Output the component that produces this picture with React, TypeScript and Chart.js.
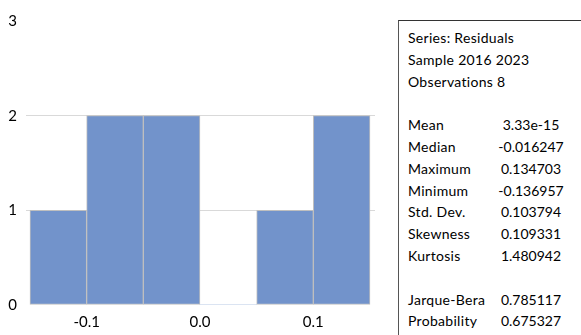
import React, { useEffect, useRef } from "react";
import { Chart, registerables } from "chart.js";

Chart.register(...registerables);

const binCenters = [-0.125, -0.075, -0.025, 0.025, 0.075, 0.125];
const counts = [1, 2, 2, 0, 1, 2];
const xTicks = [-0.1, 0.0, 0.1];
const yTicks = [0, 1, 2, 3];

const statsHeader = ["Series: Residuals", "Sample 2016 2023", "Observations 8"];
const statLabels = ["Mean", "Median", "Maximum", "Minimum", "Std. Dev.", "Skewness", "Kurtosis"];
const statValues = ["3.33e-15", "-0.016247", "0.134703", "-0.136957", "0.103794", "0.109331", "1.480942"];
const testLabels = ["Jarque-Bera", "Probability"];
const testValues = ["0.785117", "0.675327"];

const FONT = "Lato, 'Open Sans', sans-serif";

function Histogram() {
  const ref = useRef<HTMLCanvasElement | null>(null);
  useEffect(() => {
    if (!ref.current) return;
    const chart = new Chart(ref.current, {
      type: "bar",
      data: {
        datasets: [
          {
            data: binCenters.map((x, i) => ({ x, y: counts[i] })),
            backgroundColor: "#7293cb",
            borderColor: "#bfbfbf",
            borderWidth: (ctx: any) => (ctx.raw && ctx.raw.y > 0 ? 1 : 0),
            borderSkipped: false,
            barPercentage: 1,
            categoryPercentage: 1,
          },
        ],
      },
      options: {
        animation: false,
        responsive: false,
        maintainAspectRatio: false,
        layout: { padding: { top: 21, right: 8, left: 0, bottom: 0 } },
        plugins: { legend: { display: false }, tooltip: { enabled: false } },
        scales: {
          x: {
            type: "linear",
            offset: false,
            min: -0.1535,
            max: 0.1544,
            afterBuildTicks: (axis: any) => {
              axis.ticks = xTicks.map((v) => ({ value: v }));
            },
            afterFit: (axis: any) => {
              axis.height = 30;
            },
            grid: { display: false, drawTicks: false, offset: false },
            border: { display: false },
            ticks: {
              color: "#000",
              font: { family: FONT, size: 15 },
              padding: 8,
              maxRotation: 0,
              callback: (v: any) => Number(v).toFixed(1),
            },
          },
          y: {
            type: "linear",
            min: 0,
            max: 3,
            afterBuildTicks: (axis: any) => {
              axis.ticks = yTicks.map((v) => ({ value: v }));
            },
            afterFit: (axis: any) => {
              axis.width = 26;
            },
            grid: {
              drawTicks: false,
              color: (ctx: any) =>
                ctx.tick && (ctx.tick.value === 1 || ctx.tick.value === 2) ? "#d9d9d9" : "rgba(0,0,0,0)",
            },
            border: { display: false },
            ticks: {
              color: "#000",
              font: { family: FONT, size: 15 },
              padding: 9,
              callback: (v: any) => String(v),
            },
          },
        },
      },
    } as any);
    return () => chart.destroy();
  }, []);
  return (
    <canvas
      ref={ref}
      width={383}
      height={335}
      style={{ position: "absolute", left: 0, top: 0, width: 383, height: 335 }}
    />
  );
}

function StatsBox() {
  const lineH = 21.8;
  const rows: { label: string; value?: string }[] = [];
  statsHeader.forEach((s) => rows.push({ label: s }));
  rows.push({ label: "" });
  statLabels.forEach((s, i) => rows.push({ label: s, value: statValues[i] }));
  rows.push({ label: "" });
  testLabels.forEach((s, i) => rows.push({ label: s, value: testValues[i] }));
  return (
    <div
      style={{
        position: "absolute",
        left: 398,
        top: 20,
        width: 183,
        height: 315,
        borderTop: "1px solid #333",
        borderLeft: "1px solid #555",
        boxSizing: "border-box",
        fontFamily: FONT,
        fontSize: 14,
        color: "#000",
      }}
    >
      {rows.map((r, i) => (
        <div
          key={i}
          style={{
            position: "absolute",
            left: 0,
            top: 6 + i * lineH,
            width: 183,
            height: lineH,
            lineHeight: lineH + "px",
            whiteSpace: "nowrap",
          }}
        >
          <span style={{ position: "absolute", left: 9, letterSpacing: 0.3 }}>{r.label}</span>
          {r.value !== undefined && (
            <span style={{ position: "absolute", left: 91, width: 82, textAlign: "center" }}>{r.value}</span>
          )}
        </div>
      ))}
    </div>
  );
}

export default function App() {
  return (
    <div style={{ position: "absolute", left: 0, top: 0, width: 581, height: 335, background: "#fff", overflow: "hidden" }}>
      <Histogram />
      <StatsBox />
    </div>
  );
}
